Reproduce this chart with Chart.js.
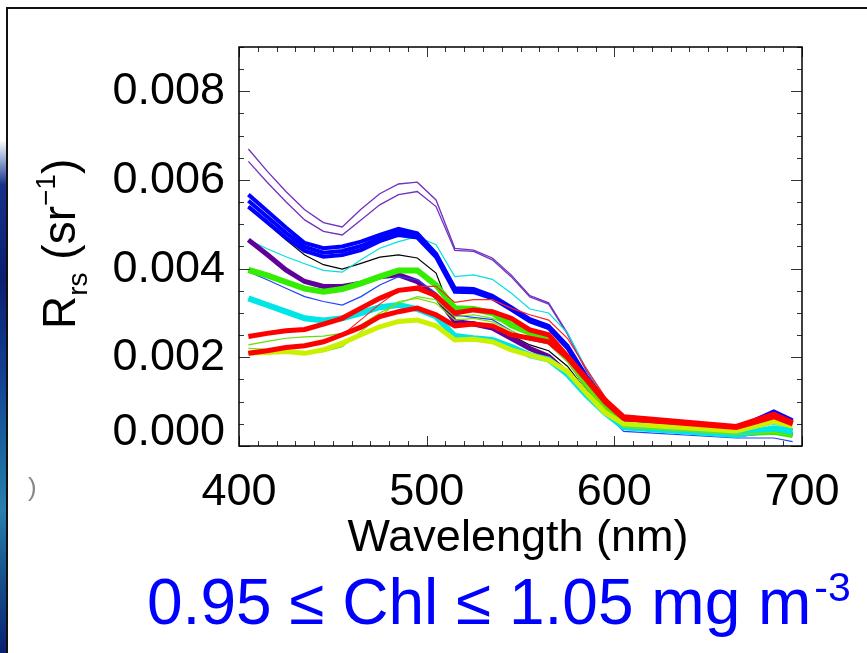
<!DOCTYPE html>
<html>
<head>
<meta charset="utf-8">
<script src="https://cdn.jsdelivr.net/npm/chart.js@4.4.0/dist/chart.umd.min.js"></script>
<style>
    body { margin: 0; background: #fff; width: 867px; height: 653px; overflow: hidden; position: relative; }
    #faixa {
        position: absolute; left: 0; top: 140px; width: 7px; height: 513px;
        background: linear-gradient(to bottom, #ffffff 0px, #9fb4d8 18px, #16308a 45px, #0b1f70 140px,
            #123f92 230px, #1b6aa2 320px, #2a7fae 370px, #17568f 430px, #0c2a78 500px, #0a2070 513px);
    }
    #moldura { position: absolute; left: 6px; top: 7px; width: 900px; height: 700px; border-top: 2px solid #111; border-left: 2px solid #111; }
    #grafico { position: absolute; left: 0; top: 0; }
</style>
</head>
<body>
<div id="faixa"></div>
<div id="moldura"></div>
<canvas id="grafico" width="867" height="653"></canvas>
<script>
// comprimentos de onda (nm) e rotulos dos eixos
const comprimentos = [405, 415, 425, 435, 445, 455, 465, 475, 485, 495, 505, 515, 525, 535, 545, 555, 565, 575, 585, 595, 605, 665, 685, 695];
const rotulosX = [400, 500, 600, 700];
const rotulosY = [0.000, 0.002, 0.004, 0.006, 0.008];

// Rrs (sr^-1)
const roxoFino1   = [0.00670, 0.00620, 0.00574, 0.00533, 0.00504, 0.00494, 0.00534, 0.00569, 0.00591, 0.00595, 0.00555, 0.00446, 0.00442, 0.00424, 0.00386, 0.00339, 0.00323, 0.00255, 0.00172, 0.00110, 0.00058, 0.00030, 0.00040, 0.00028];
const roxoFino2   = [0.00642, 0.00595, 0.00551, 0.00510, 0.00484, 0.00476, 0.00510, 0.00544, 0.00567, 0.00574, 0.00540, 0.00441, 0.00439, 0.00420, 0.00382, 0.00336, 0.00320, 0.00252, 0.00170, 0.00108, 0.00056, 0.00029, 0.00038, 0.00027];
const azulGrosso1 = [0.00567, 0.00530, 0.00493, 0.00458, 0.00446, 0.00450, 0.00461, 0.00476, 0.00490, 0.00480, 0.00434, 0.00356, 0.00354, 0.00339, 0.00313, 0.00286, 0.00271, 0.00226, 0.00158, 0.00102, 0.00062, 0.00040, 0.00078, 0.00058];
const azulGrosso2 = [0.00553, 0.00517, 0.00481, 0.00449, 0.00436, 0.00440, 0.00451, 0.00469, 0.00483, 0.00475, 0.00430, 0.00352, 0.00350, 0.00336, 0.00310, 0.00283, 0.00268, 0.00223, 0.00155, 0.00100, 0.00060, 0.00038, 0.00074, 0.00055];
const azulGrosso3 = [0.00540, 0.00505, 0.00470, 0.00440, 0.00427, 0.00431, 0.00442, 0.00462, 0.00476, 0.00470, 0.00426, 0.00348, 0.00347, 0.00333, 0.00308, 0.00281, 0.00266, 0.00221, 0.00153, 0.00098, 0.00058, 0.00036, 0.00070, 0.00052];
const preto       = [0.00540, 0.00502, 0.00465, 0.00431, 0.00409, 0.00399, 0.00412, 0.00426, 0.00431, 0.00424, 0.00390, 0.00281, 0.00280, 0.00270, 0.00250, 0.00228, 0.00215, 0.00180, 0.00125, 0.00075, 0.00040, 0.00022, 0.00042, 0.00030];
const cianoFino   = [0.00465, 0.00445, 0.00427, 0.00411, 0.00396, 0.00392, 0.00420, 0.00446, 0.00461, 0.00472, 0.00454, 0.00382, 0.00386, 0.00376, 0.00345, 0.00309, 0.00300, 0.00255, 0.00175, 0.00105, 0.00050, 0.00030, 0.00050, 0.00038];
const roxoGrosso  = [0.00465, 0.00432, 0.00397, 0.00371, 0.00360, 0.00360, 0.00367, 0.00382, 0.00386, 0.00371, 0.00337, 0.00281, 0.00275, 0.00266, 0.00243, 0.00220, 0.00202, 0.00164, 0.00120, 0.00080, 0.00045, 0.00025, 0.00035, 0.00025];
const verdeGrosso = [0.00397, 0.00385, 0.00370, 0.00355, 0.00348, 0.00354, 0.00367, 0.00382, 0.00396, 0.00396, 0.00363, 0.00311, 0.00309, 0.00300, 0.00273, 0.00255, 0.00245, 0.00200, 0.00140, 0.00090, 0.00045, 0.00028, 0.00032, 0.00025];
const azulFino    = [0.00393, 0.00375, 0.00356, 0.00337, 0.00326, 0.00318, 0.00337, 0.00363, 0.00382, 0.00375, 0.00345, 0.00295, 0.00290, 0.00285, 0.00260, 0.00240, 0.00230, 0.00190, 0.00130, 0.00075, 0.00033, 0.00018, 0.00018, 0.00010];
const cianoGrosso = [0.00333, 0.00318, 0.00303, 0.00288, 0.00283, 0.00288, 0.00300, 0.00313, 0.00318, 0.00309, 0.00292, 0.00248, 0.00243, 0.00239, 0.00224, 0.00205, 0.00195, 0.00162, 0.00115, 0.00075, 0.00042, 0.00025, 0.00040, 0.00032];
const vermelho1   = [0.00247, 0.00254, 0.00260, 0.00263, 0.00275, 0.00288, 0.00311, 0.00333, 0.00351, 0.00356, 0.00339, 0.00300, 0.00307, 0.00303, 0.00288, 0.00262, 0.00251, 0.00202, 0.00153, 0.00104, 0.00066, 0.00044, 0.00072, 0.00053];
const vermelho2   = [0.00209, 0.00215, 0.00222, 0.00226, 0.00235, 0.00251, 0.00268, 0.00292, 0.00303, 0.00311, 0.00296, 0.00271, 0.00275, 0.00271, 0.00251, 0.00243, 0.00235, 0.00200, 0.00150, 0.00100, 0.00062, 0.00042, 0.00066, 0.00050];
const vermelhoFino= [0.00210, 0.00215, 0.00220, 0.00225, 0.00235, 0.00250, 0.00285, 0.00320, 0.00350, 0.00360, 0.00360, 0.00324, 0.00330, 0.00330, 0.00311, 0.00296, 0.00284, 0.00243, 0.00175, 0.00111, 0.00064, 0.00043, 0.00068, 0.00052];
const verdeFino1  = [0.00228, 0.00236, 0.00243, 0.00246, 0.00248, 0.00254, 0.00273, 0.00300, 0.00322, 0.00337, 0.00330, 0.00292, 0.00296, 0.00288, 0.00273, 0.00250, 0.00240, 0.00200, 0.00140, 0.00090, 0.00048, 0.00030, 0.00052, 0.00040];
const verdeFino2  = [0.00220, 0.00218, 0.00217, 0.00209, 0.00213, 0.00224, 0.00258, 0.00292, 0.00326, 0.00333, 0.00322, 0.00284, 0.00288, 0.00280, 0.00260, 0.00240, 0.00230, 0.00190, 0.00135, 0.00085, 0.00042, 0.00026, 0.00030, 0.00022];
const amarelo     = [0.00209, 0.00211, 0.00213, 0.00209, 0.00217, 0.00232, 0.00251, 0.00269, 0.00281, 0.00284, 0.00271, 0.00239, 0.00241, 0.00235, 0.00217, 0.00205, 0.00194, 0.00168, 0.00120, 0.00075, 0.00050, 0.00034, 0.00055, 0.00045];

const fonte = '"Liberation Sans", Arial, Helvetica, sans-serif';

function serie(valores, cor, largura) {
    return {
        data: comprimentos.map(function (w, i) { return { x: w, y: valores[i] }; }),
        borderColor: cor,
        borderWidth: largura,
        pointRadius: 0,
        tension: 0,
        fill: false
    };
}

// o primeiro dataset fica por cima
const datasets = [
    serie(vermelho1, '#ff0000', 5),
    serie(vermelho2, '#ff0000', 5),
    serie(vermelhoFino, '#ff2020', 1.2),
    serie(amarelo, '#ccf000', 5),
    serie(verdeFino2, '#7be000', 1.2),
    serie(verdeFino1, '#66e000', 1.2),
    serie(cianoGrosso, '#00e6e6', 6),
    serie(verdeGrosso, '#33ee00', 6),
    serie(azulFino, '#2040ff', 1.2),
    serie(roxoGrosso, '#600098', 5),
    serie(azulGrosso1, '#0000ff', 4),
    serie(azulGrosso2, '#0000ff', 4),
    serie(azulGrosso3, '#0000ff', 4),
    serie(cianoFino, '#00e0e0', 1.2),
    serie(preto, '#000000', 1.2),
    serie(roxoFino2, '#7030c0', 1.3),
    serie(roxoFino1, '#7030c0', 1.3)
];

function linha(ctx, x1, y1, x2, y2) {
    ctx.beginPath();
    ctx.moveTo(x1, y1);
    ctx.lineTo(x2, y2);
    ctx.stroke();
}

// eixos no estilo IDL: caixa, marcas internas e textos
const eixosPlugin = {
    id: 'eixos',
    afterDraw(chart) {
        const ctx = chart.ctx;
        const a = chart.chartArea;
        const sx = chart.scales.x;
        const sy = chart.scales.y;
        ctx.save();

        ctx.strokeStyle = '#333';
        ctx.lineWidth = 1;
        for (let w = 400; w <= 700; w += 10) {
            const px = Math.round(sx.getPixelForValue(w)) + 0.5;
            const len = (w % 100 === 0) ? 10 : 5;
            linha(ctx, px, a.bottom, px, a.bottom - len);
            linha(ctx, px, a.top, px, a.top + len);
        }
        for (let k = 0; k <= 18; k++) {
            const py = Math.round(sy.getPixelForValue(k * 0.0005)) + 0.5;
            const len = (k % 4 === 0) ? 11 : 5;
            linha(ctx, a.left, py, a.left + len, py);
            linha(ctx, a.right, py, a.right - len, py);
        }

        ctx.strokeStyle = '#000';
        ctx.lineWidth = 1.5;
        ctx.strokeRect(a.left, a.top, a.right - a.left, a.bottom - a.top);

        ctx.fillStyle = '#000';
        ctx.font = '45px ' + fonte;
        ctx.textBaseline = 'alphabetic';
        ctx.textAlign = 'right';
        rotulosY.forEach(function (v) {
            let base = sy.getPixelForValue(v) + 13;
            if (v === 0) base = 445;
            ctx.fillText(v.toFixed(3), 225, base);
        });
        ctx.textAlign = 'center';
        rotulosX.forEach(function (w) {
            ctx.fillText(String(w), sx.getPixelForValue(w), 505);
        });
        ctx.fillText('Wavelength (nm)', 518, 551);

        // titulo do eixo y: R_rs (sr^-1)
        ctx.save();
        ctx.translate(75, 329);
        ctx.rotate(-Math.PI / 2);
        ctx.textAlign = 'left';
        let x = 0;
        ctx.font = '46px ' + fonte;
        ctx.fillText('R', x, 0); x += ctx.measureText('R').width;
        ctx.font = '28px ' + fonte;
        ctx.fillText('rs', x, 12); x += ctx.measureText('rs').width;
        ctx.font = '46px ' + fonte;
        ctx.fillText(' (sr', x, 0); x += ctx.measureText(' (sr').width;
        ctx.font = '28px ' + fonte;
        ctx.fillText('\u22121', x, -20); x += ctx.measureText('\u22121').width;
        ctx.font = '46px ' + fonte;
        ctx.fillText(')', x, 0);
        ctx.restore();

        // pedaco de texto cortado a esquerda
        ctx.fillStyle = '#888';
        ctx.font = '26px ' + fonte;
        ctx.textAlign = 'left';
        ctx.fillText(')', 28, 496);

        // legenda da faixa de clorofila
        ctx.fillStyle = '#0000ff';
        ctx.font = '64px ' + fonte;
        const texto = '0.95 \u2264 Chl \u2264 1.05 mg m';
        ctx.fillText(texto, 147, 624);
        const fim = 147 + ctx.measureText(texto).width;
        ctx.font = '41px ' + fonte;
        ctx.fillText('-3', fim + 3, 601);

        ctx.restore();
    }
};

const config = {
    type: 'line',
    data: { datasets: datasets },
    options: {
        responsive: false,
        animation: false,
        layout: { padding: { left: 239, top: 47, right: 65, bottom: 207 } },
        scales: {
            x: { type: 'linear', min: 400, max: 700, display: false },
            y: { type: 'linear', min: 0, max: 0.009, display: false }
        },
        plugins: {
            legend: { display: false },
            tooltip: { enabled: false },
            title: { display: false }
        }
    },
    plugins: [eixosPlugin]
};

let grafico = new Chart(document.getElementById('grafico'), config);
</script>
</body>
</html>
